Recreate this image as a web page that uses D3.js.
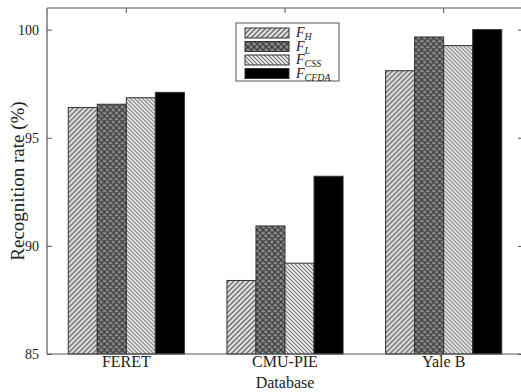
<!DOCTYPE html>
<meta charset="utf-8">
<script src="https://d3js.org/d3.v7.min.js"></script>
<style>
  body { margin: 0; background: #fff; }
  text { font-family: "Liberation Serif", "DejaVu Serif", serif; fill: #222; }
</style>
<div id="chart"></div>
<script>

// data
var databases = ["FERET", "CMU-PIE", "Yale B"];
var features = ["H", "L", "CSS", "CFDA"];
var fH    = [96.4, 88.4, 98.1];
var fL    = [96.55, 90.92, 99.66];
var fCSS  = [96.85, 89.2, 99.26];
var fCFDA = [97.1, 93.22, 100.0];
var yTicks = [85, 90, 95, 100];

var series = [fH, fL, fCSS, fCFDA];

var W = 521, H = 392;
var margin = {top: 8, right: -2, bottom: 38, left: 47};
var width = W - margin.left - margin.right,
    height = H - margin.top - margin.bottom;

var svg = d3.select("#chart").append("svg")
    .attr("width", W)
    .attr("height", H);

// hatch patterns
var defs = svg.append("defs");

var pH = defs.append("pattern").attr("id", "patH")
    .attr("patternUnits", "userSpaceOnUse").attr("width", 5).attr("height", 5);
pH.append("rect").attr("width", 5).attr("height", 5).attr("fill", "#e2e2e2");
pH.append("path").attr("d", "M-1,1 l2,-2 M0,5 l5,-5 M4,6 l2,-2")
    .attr("stroke", "#6a6a6a").attr("stroke-width", 1.4);

var pL = defs.append("pattern").attr("id", "patL")
    .attr("patternUnits", "userSpaceOnUse").attr("width", 6).attr("height", 6);
pL.append("rect").attr("width", 6).attr("height", 6).attr("fill", "#8a8a8a");
pL.append("path").attr("d", "M0,0 l6,6 M0,6 l6,-6 M-1,5 l2,2 M5,-1 l2,2 M-1,1 l2,-2 M5,7 l2,-2")
    .attr("stroke", "#3e3e3e").attr("stroke-width", 1.3);

var pC = defs.append("pattern").attr("id", "patC")
    .attr("patternUnits", "userSpaceOnUse").attr("width", 4).attr("height", 4);
pC.append("rect").attr("width", 4).attr("height", 4).attr("fill", "#f4f4f4");
pC.append("path").attr("d", "M-1,3 l2,2 M0,0 l4,4 M3,-1 l2,2")
    .attr("stroke", "#6e6e6e").attr("stroke-width", 1.1);

var fills = ["url(#patH)", "url(#patL)", "url(#patC)", "#000"];

var g = svg.append("g")
    .attr("transform", "translate(" + margin.left + "," + margin.top + ")");

// scales
var x = d3.scaleBand()
    .domain(databases)
    .range([0, width])
    .paddingInner(0.268)
    .paddingOuter(0.134);

var xSub = d3.scaleBand()
    .domain(features)
    .range([0, x.bandwidth()])
    .padding(0);

var y = d3.scaleLinear()
    .domain([85, 101])
    .range([height, 0]);

// bars
var groups = g.selectAll("g.grp")
    .data(databases)
    .enter().append("g")
    .attr("class", "grp")
    .attr("transform", function(d) { return "translate(" + x(d) + ",0)"; });

groups.selectAll("rect")
    .data(function(d, i) { return features.map(function(f, j) { return {key: f, value: series[j][i], j: j}; }); })
    .enter().append("rect")
    .attr("x", function(d) { return xSub(d.key); })
    .attr("y", function(d) { return y(d.value); })
    .attr("width", xSub.bandwidth())
    .attr("height", function(d) { return height - y(d.value); })
    .attr("fill", function(d) { return fills[d.j]; })
    .attr("stroke", "#333")
    .attr("stroke-width", 1);

// axes (box style, ticks inward)
var axisColor = "#555";

var yAxis = g.append("g")
    .call(d3.axisLeft(y).tickValues(yTicks).tickSize(-5).tickPadding(8));
var xAxis = g.append("g")
    .attr("transform", "translate(0," + height + ")")
    .call(d3.axisBottom(x).tickSize(0).tickPadding(2));
var yAxisR = g.append("g")
    .attr("transform", "translate(" + width + ",0)")
    .call(d3.axisRight(y).tickValues(yTicks).tickSize(-5).tickFormat(""));
var xAxisT = g.append("g")
    .call(d3.axisTop(x).tickSize(-5).tickFormat(""));

[yAxis, xAxis, yAxisR, xAxisT].forEach(function(a) {
  a.select(".domain").attr("stroke", axisColor).attr("stroke-width", 1.2);
  a.selectAll(".tick line").attr("stroke", axisColor);
});
yAxis.selectAll(".domain").attr("d", "M0," + height + "V0");
xAxis.selectAll(".domain").attr("d", "M0,0H" + width);
yAxisR.selectAll(".domain").attr("d", "M0," + height + "V0");
xAxisT.selectAll(".domain").attr("d", "M0,0H" + width);

yAxis.selectAll("text")
    .style("font-family", "Liberation Serif, serif")
    .style("font-size", "14px")
    .attr("fill", "#444");
xAxis.selectAll("text")
    .style("font-family", "Liberation Serif, serif")
    .style("font-size", "16px")
    .attr("fill", "#222");

// axis titles
svg.append("text")
    .attr("transform", "rotate(-90)")
    .attr("x", -(margin.top + height / 2))
    .attr("y", 24)
    .attr("text-anchor", "middle")
    .style("font-size", "19px")
    .text("Recognition rate (%)");

svg.append("text")
    .attr("x", margin.left + x("CMU-PIE") + x.bandwidth() / 2)
    .attr("y", 388)
    .attr("text-anchor", "middle")
    .style("font-size", "16px")
    .text("Database");

// legend
var legend = svg.append("g").attr("transform", "translate(236,23)");
legend.append("rect")
    .attr("width", 103).attr("height", 58)
    .attr("fill", "#fff").attr("stroke", "#555").attr("stroke-width", 1);

features.forEach(function(f, i) {
  var ly = 5 + i * 13.5;
  legend.append("rect")
      .attr("x", 9).attr("y", ly)
      .attr("width", 44).attr("height", 10)
      .attr("fill", fills[i])
      .attr("stroke", "#333");
  var t = legend.append("text")
      .attr("x", 60).attr("y", ly + 9)
      .style("font-size", "14px")
      .style("font-style", "italic");
  t.append("tspan").text("F");
  t.append("tspan").attr("dy", 3).style("font-size", "10px").text(f);
});

</script>
